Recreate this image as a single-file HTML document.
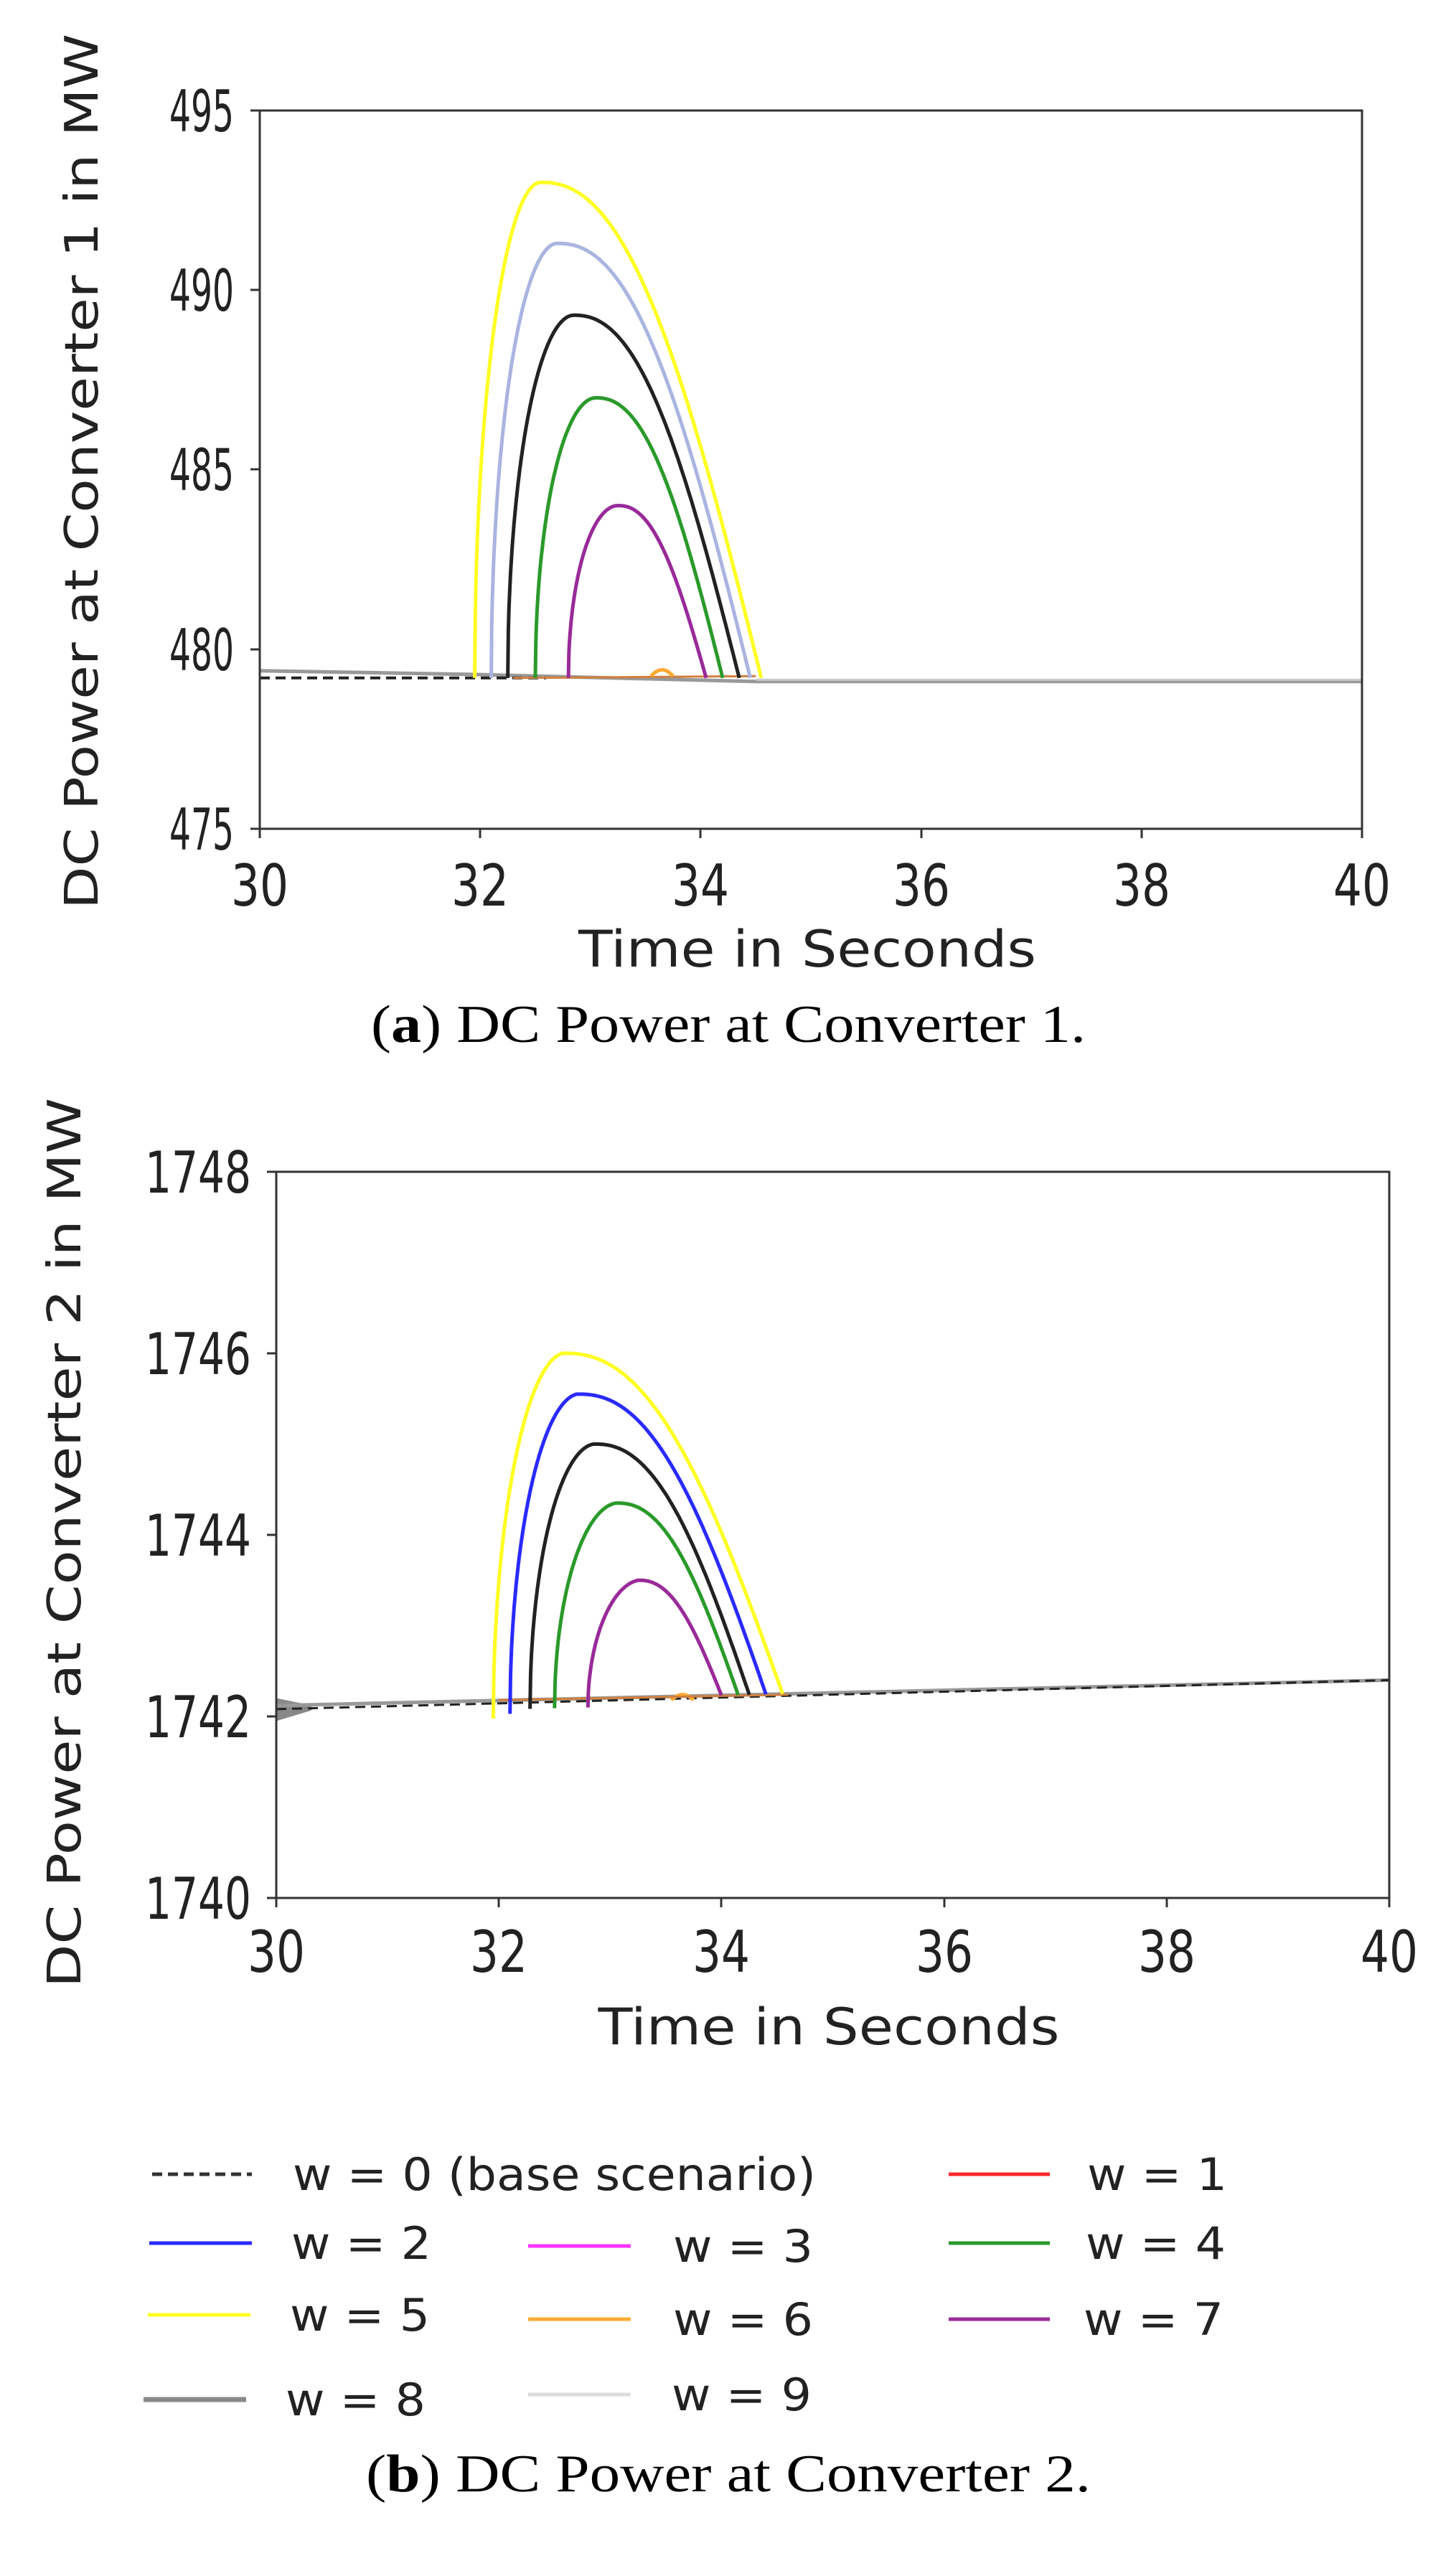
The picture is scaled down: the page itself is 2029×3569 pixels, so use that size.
<!DOCTYPE html>
<html><head><meta charset="utf-8"><style>
html,body{margin:0;padding:0;background:#fff;}
svg{display:block;}
</style></head><body>
<svg id="s" width="2029" height="3569" xmlns="http://www.w3.org/2000/svg" font-family="'DejaVu Sans','Liberation Sans',sans-serif">
<rect width="2029" height="3569" fill="#fff"/>
<g id="c1"></g>
<g id="c2"></g>
<!-- Chart 1 frame -->
<rect x="362" y="154" width="1536" height="1001" fill="none" stroke="#333" stroke-width="3"/>
<g font-size="80" fill="#222" text-anchor="middle">
<text x="362" y="1262" textLength="80" lengthAdjust="spacingAndGlyphs">30</text><text x="669" y="1262" textLength="80" lengthAdjust="spacingAndGlyphs">32</text><text x="976" y="1262" textLength="80" lengthAdjust="spacingAndGlyphs">34</text>
<text x="1284" y="1262" textLength="80" lengthAdjust="spacingAndGlyphs">36</text><text x="1591" y="1262" textLength="80" lengthAdjust="spacingAndGlyphs">38</text><text x="1898" y="1262" textLength="80" lengthAdjust="spacingAndGlyphs">40</text>
</g>
<g font-size="80" fill="#222" text-anchor="end">
<text x="326" y="183" textLength="90" lengthAdjust="spacingAndGlyphs">495</text><text x="326" y="433" textLength="90" lengthAdjust="spacingAndGlyphs">490</text><text x="326" y="683" textLength="90" lengthAdjust="spacingAndGlyphs">485</text>
<text x="326" y="934" textLength="90" lengthAdjust="spacingAndGlyphs">480</text><text x="326" y="1184" textLength="90" lengthAdjust="spacingAndGlyphs">475</text>
</g>
<g stroke="#333" stroke-width="3">
<line x1="362" y1="1155" x2="362" y2="1168"/><line x1="669" y1="1155" x2="669" y2="1168"/><line x1="976" y1="1155" x2="976" y2="1168"/><line x1="1284" y1="1155" x2="1284" y2="1168"/><line x1="1591" y1="1155" x2="1591" y2="1168"/><line x1="1898" y1="1155" x2="1898" y2="1168"/>
<line x1="349" y1="154" x2="362" y2="154"/><line x1="349" y1="404" x2="362" y2="404"/><line x1="349" y1="654" x2="362" y2="654"/><line x1="349" y1="905" x2="362" y2="905"/><line x1="349" y1="1155" x2="362" y2="1155"/>
</g>
<text x="1125" y="1347" font-size="70" fill="#222" text-anchor="middle" textLength="638" lengthAdjust="spacingAndGlyphs">Time in Seconds</text>
<text transform="translate(136,657) rotate(-90)" font-size="64" fill="#222" text-anchor="middle" textLength="1220" lengthAdjust="spacingAndGlyphs">DC Power at Converter 1 in MW</text>
<text x="1015" y="1452" font-size="74" fill="#000" text-anchor="middle" font-family="'Liberation Serif',serif" textLength="996" lengthAdjust="spacingAndGlyphs">(<tspan font-weight="bold">a</tspan>) DC Power at Converter 1.</text>

<!-- Chart 2 frame -->
<rect x="385" y="1633" width="1551" height="1012" fill="none" stroke="#333" stroke-width="3"/>
<g font-size="80" fill="#222" text-anchor="middle">
<text x="385" y="2748" textLength="80" lengthAdjust="spacingAndGlyphs">30</text><text x="695" y="2748" textLength="80" lengthAdjust="spacingAndGlyphs">32</text><text x="1005" y="2748" textLength="80" lengthAdjust="spacingAndGlyphs">34</text>
<text x="1316" y="2748" textLength="80" lengthAdjust="spacingAndGlyphs">36</text><text x="1626" y="2748" textLength="80" lengthAdjust="spacingAndGlyphs">38</text><text x="1936" y="2748" textLength="80" lengthAdjust="spacingAndGlyphs">40</text>
</g>
<g font-size="80" fill="#222" text-anchor="end">
<text x="350" y="1662" textLength="148" lengthAdjust="spacingAndGlyphs">1748</text><text x="350" y="1915" textLength="148" lengthAdjust="spacingAndGlyphs">1746</text><text x="350" y="2168" textLength="148" lengthAdjust="spacingAndGlyphs">1744</text>
<text x="350" y="2421" textLength="148" lengthAdjust="spacingAndGlyphs">1742</text><text x="350" y="2674" textLength="148" lengthAdjust="spacingAndGlyphs">1740</text>
</g>
<g stroke="#333" stroke-width="3">
<line x1="385" y1="2645" x2="385" y2="2658"/><line x1="695" y1="2645" x2="695" y2="2658"/><line x1="1005" y1="2645" x2="1005" y2="2658"/><line x1="1316" y1="2645" x2="1316" y2="2658"/><line x1="1626" y1="2645" x2="1626" y2="2658"/><line x1="1936" y1="2645" x2="1936" y2="2658"/>
<line x1="372" y1="1633" x2="385" y2="1633"/><line x1="372" y1="1886" x2="385" y2="1886"/><line x1="372" y1="2139" x2="385" y2="2139"/><line x1="372" y1="2392" x2="385" y2="2392"/><line x1="372" y1="2645" x2="385" y2="2645"/>
</g>
<text x="1155" y="2849" font-size="70" fill="#222" text-anchor="middle" textLength="643" lengthAdjust="spacingAndGlyphs">Time in Seconds</text>
<text transform="translate(112,2150) rotate(-90)" font-size="64" fill="#222" text-anchor="middle" textLength="1240" lengthAdjust="spacingAndGlyphs">DC Power at Converter 2 in MW</text>

<!-- Legend -->
<g stroke-width="5">
<line x1="212" y1="3030" x2="351" y2="3030" stroke="#333" stroke-dasharray="14,8"/>
<line x1="1322" y1="3030" x2="1463" y2="3030" stroke="#ff2a2a"/>
<line x1="208" y1="3126" x2="351" y2="3126" stroke="#2a2aff"/>
<line x1="736" y1="3130" x2="879" y2="3130" stroke="#ff33ff"/>
<line x1="1322" y1="3126" x2="1463" y2="3126" stroke="#2a9a2a"/>
<line x1="206" y1="3226" x2="349" y2="3226" stroke="#ffff22"/>
<line x1="736" y1="3232" x2="879" y2="3232" stroke="#ffaa33"/>
<line x1="1322" y1="3232" x2="1463" y2="3232" stroke="#992a99"/>
<line x1="200" y1="3344" x2="343" y2="3344" stroke="#8a8a8a" stroke-width="7"/>
<line x1="736" y1="3337" x2="879" y2="3337" stroke="#dddddd"/>
</g>
<g font-size="62" fill="#222">
<text x="408" y="3052" textLength="729" lengthAdjust="spacingAndGlyphs">w = 0 (base scenario)</text>
<text x="1515" y="3052" textLength="195" lengthAdjust="spacingAndGlyphs">w = 1</text>
<text x="406" y="3148" textLength="195" lengthAdjust="spacingAndGlyphs">w = 2</text>
<text x="938" y="3152" textLength="195" lengthAdjust="spacingAndGlyphs">w = 3</text>
<text x="1513" y="3148" textLength="195" lengthAdjust="spacingAndGlyphs">w = 4</text>
<text x="404" y="3248" textLength="195" lengthAdjust="spacingAndGlyphs">w = 5</text>
<text x="938" y="3254" textLength="195" lengthAdjust="spacingAndGlyphs">w = 6</text>
<text x="1510" y="3254" textLength="195" lengthAdjust="spacingAndGlyphs">w = 7</text>
<text x="398" y="3366" textLength="195" lengthAdjust="spacingAndGlyphs">w = 8</text>
<text x="936" y="3359" textLength="195" lengthAdjust="spacingAndGlyphs">w = 9</text>
</g>
<text x="1015" y="3472" font-size="74" fill="#000" text-anchor="middle" font-family="'Liberation Serif',serif" textLength="1010" lengthAdjust="spacingAndGlyphs">(<tspan font-weight="bold">b</tspan>) DC Power at Converter 2.</text>
</svg>
<script>
(function(){
var NS="http://www.w3.org/2000/svg";
function mk(g,d,col,w,dash){var p=document.createElementNS(NS,"path");p.setAttribute("d",d);p.setAttribute("fill","none");p.setAttribute("stroke",col);p.setAttribute("stroke-width",w);if(dash)p.setAttribute("stroke-dasharray",dash);g.appendChild(p);}
function chart(g,x0,x1,px0,px1,y0,y1,py0,py1,base,curves,extra){
 function X(t){return px0+(t-x0)/(x1-x0)*(px1-px0);}
 function Y(v){return py0+(v-y0)/(y1-y0)*(py1-py0);}
 extra(X,Y,g);
 curves.forEach(function(c){
  var ts=c[0],tp=c[1],te=c[2],pk=c[3],col=c[4],d="";
  var N=120;
  for(var i=0;i<=N;i++){var t=ts+(tp-ts)*i/N;var u=(tp-t)/(tp-ts);var b=base(t)-(c[5]||0)*(1-i/N);var v=b+(pk-base(tp))*Math.sqrt(Math.max(0,1-u*u));if(i==0)v=base(ts)-(c[5]||0);d+=(i?"L":"M")+X(t).toFixed(1)+" "+Y(v).toFixed(1);}
  for(var i=1;i<=N;i++){var t=tp+(te-tp)*i/N;var u=(t-tp)/(te-tp);var v=base(t)+(pk-base(tp))*Math.cos(Math.PI/2*Math.pow(u,1.15));d+="L"+X(t).toFixed(1)+" "+Y(v).toFixed(1);}
  mk(g,d,col,5);
 });
}
var g1=document.getElementById("c1");
chart(g1,30,40,362,1898,495,475,154,1155,function(t){return 479.2;},
 [[32.8,33.25,34.05,484,"#992a99"],[32.5,33.05,34.2,487,"#2a9a2a"],[32.25,32.85,34.35,489.3,"#222"],[32.1,32.7,34.45,491.3,"#aab4e0"],[31.95,32.55,34.55,493,"#ffff22"]],
 function(X,Y,g){
  mk(g,"M"+X(30)+" "+Y(479.4)+"L"+X(31.9)+" "+Y(479.3)+"L"+X(34.5)+" "+Y(479.1)+"L"+X(40)+" "+Y(479.1),"#999",5);
  mk(g,"M"+X(30)+" "+Y(479.2)+"L"+X(32.6)+" "+Y(479.2),"#222",4,"14,8");
  mk(g,"M"+X(32.3)+" "+Y(479.2)+"L"+X(34.5)+" "+Y(479.25),"#d08040",3);
  mk(g,"M"+X(33.55)+" "+Y(479.25)+"Q"+X(33.65)+" "+Y(479.6)+" "+X(33.75)+" "+Y(479.25),"#ffaa33",5);
  mk(g,"M"+X(34.5)+" "+Y(479.15)+"L"+X(40)+" "+Y(479.15),"#ccc",3);
 });
var g2=document.getElementById("c2");
function b2(t){return 1742.12+(t-30)*0.028;}
chart(g2,30,40,385,1936,1748,1740,1633,2645,b2,
 [[32.8,33.25,34.0,1743.5,"#992a99",0.1],[32.5,33.05,34.15,1744.35,"#2a9a2a",0.1],[32.28,32.85,34.25,1745,"#222",0.1],[32.1,32.7,34.4,1745.55,"#2a2aff",0.15],[31.95,32.57,34.55,1746,"#ffff22",0.2]],
 function(X,Y,g){
  var d="M"+X(30)+" "+Y(1742.1);
  for(var i=0;i<40;i++){var t=30+i*0.008;d+="L"+X(t).toFixed(1)+" "+Y(i%2?1741.95+i*0.003:1742.2-i*0.002).toFixed(1);}
  mk(g,d,"#888",3);
  mk(g,"M"+X(30)+" "+Y(1742.12)+"L"+X(40)+" "+Y(1742.4),"#999",5);
  mk(g,"M"+X(30)+" "+Y(1742.08)+"L"+X(40)+" "+Y(1742.4),"#222",3,"14,8");
  mk(g,"M"+X(33.55)+" "+Y(1742.18)+"Q"+X(33.65)+" "+Y(1742.3)+" "+X(33.75)+" "+Y(1742.18),"#ffaa33",5);
  mk(g,"M"+X(32)+" "+Y(1742.18)+"L"+X(34.6)+" "+Y(1742.24),"#d08040",3);
 });
})();
</script>
</body></html>
